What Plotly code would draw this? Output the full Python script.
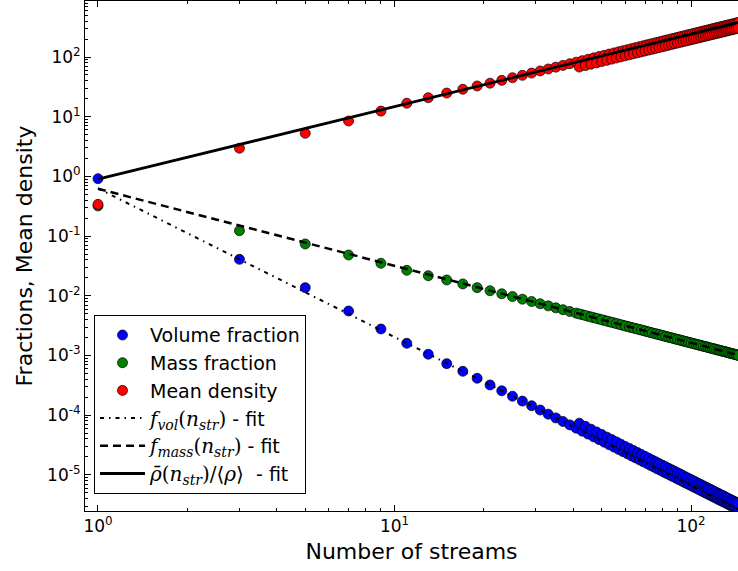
import plotly.graph_objects as go

# Multistream statistics: number of streams vs. volume fraction, mass fraction
# and mean density (normalised to the global mean).
n_odd = list(range(1, 146, 2))
vol_odd = [0.916, 0.0408, 0.0137, 0.00556, 0.00278, 0.00160, 0.00105, 7.30e-4, 5.43e-4, 4.15e-4,
           3.21e-4, 2.56e-4, 2.08e-4, 1.72e-4, 1.44e-4, 1.22e-4, 1.04e-4, 9.01e-5, 7.84e-5, 6.88e-5,
           6.07e-5, 5.39e-5, 4.82e-5, 4.32e-5, 3.90e-5, 3.53e-5, 3.20e-5, 2.92e-5, 2.67e-5, 2.45e-5,
           2.26e-5, 2.08e-5, 1.93e-5, 1.79e-5, 1.66e-5, 1.55e-5, 1.44e-5, 1.35e-5, 1.26e-5, 1.19e-5,
           1.11e-5, 1.05e-5, 9.89e-6, 9.33e-6, 8.82e-6, 8.34e-6, 7.90e-6, 7.49e-6, 7.11e-6, 6.76e-6,
           6.43e-6, 6.13e-6, 5.84e-6, 5.57e-6, 5.32e-6, 5.09e-6, 4.86e-6, 4.66e-6, 4.46e-6, 4.28e-6,
           4.10e-6, 3.94e-6, 3.78e-6, 3.64e-6, 3.50e-6, 3.37e-6, 3.24e-6, 3.12e-6, 3.01e-6, 2.90e-6,
           2.80e-6, 2.71e-6, 2.61e-6]
mass_odd = [0.32, 0.123, 0.0738, 0.0482, 0.0350, 0.0267, 0.0217, 0.0184, 0.0158, 0.0137,
            0.01215, 0.0108, 0.0097, 0.00878, 0.00801, 0.00735, 0.00678, 0.00628, 0.00585, 0.00546,
            0.00512, 0.00482, 0.00454, 0.00430, 0.00407, 0.00387, 0.00368, 0.00351, 0.00335, 0.00320,
            0.00307, 0.00294, 0.00283, 0.00272, 0.00262, 0.00252, 0.00243, 0.00235, 0.00227, 0.00220,
            0.00213, 0.00206, 0.00200, 0.00194, 0.00188, 0.00183, 0.00178, 0.00173, 0.00169, 0.00164,
            0.00160, 0.00156, 0.00152, 0.00149, 0.00145, 0.00142, 0.00139, 0.00135, 0.00132, 0.00130,
            0.00127, 0.00124, 0.00122, 0.00119, 0.00117, 0.00115, 0.00112, 0.00110, 0.00108, 0.00106,
            0.00104, 0.00102, 0.00100]
dens_odd = [0.34, 2.96, 5.27, 8.47, 12.4, 16.8, 20.8, 24.9, 28.8, 32.7,
            36.4, 40.6, 44.9, 49.3, 53.8, 58.4, 63.0, 67.6, 72.3, 77.1,
            81.9, 86.9, 91.8, 96.7, 101.8, 106.8, 112.0, 117.1, 122.3, 127.5,
            132.8, 138.1, 143.5, 148.9, 154.2, 159.7, 165.2, 170.7, 176.2, 181.8,
            187.4, 193.1, 198.7, 204.4, 210.1, 215.8, 221.6, 227.4, 233.3, 239.1,
            245.0, 250.9, 256.9, 262.8, 268.8, 274.8, 280.8, 286.9, 293.0, 299.0,
            305.2, 311.3, 317.5, 323.6, 329.9, 336.1, 342.3, 348.5, 354.8, 361.2,
            367.5, 373.8, 380.3]

# even stream counts only show up at large n
n_even = list(range(42, 145, 2))
vol_even = [7.33e-5, 6.52e-5, 5.83e-5, 5.24e-5, 4.74e-5, 4.29e-5, 3.90e-5, 3.57e-5, 3.26e-5, 2.99e-5,
            2.76e-5, 2.55e-5, 2.36e-5, 2.19e-5, 2.04e-5, 1.90e-5, 1.77e-5, 1.66e-5, 1.55e-5, 1.46e-5,
            1.37e-5, 1.29e-5, 1.22e-5, 1.15e-5, 1.09e-5, 1.03e-5, 9.75e-6, 9.23e-6, 8.75e-6, 8.33e-6,
            7.93e-6, 7.55e-6, 7.18e-6, 6.88e-6, 6.55e-6, 6.27e-6, 6.01e-6, 5.75e-6, 5.51e-6, 5.27e-6,
            5.05e-6, 4.87e-6, 4.66e-6, 4.50e-6, 4.34e-6, 4.15e-6, 4.00e-6, 3.86e-6, 3.72e-6, 3.59e-6,
            3.46e-6, 3.33e-6]
mass_even = [0.00497, 0.00468, 0.00442, 0.00418, 0.00397, 0.00377, 0.00359, 0.00343, 0.00327, 0.00313,
             0.00300, 0.00288, 0.00277, 0.00267, 0.00257, 0.00248, 0.00239, 0.00231, 0.00223, 0.00216,
             0.00209, 0.00203, 0.00197, 0.00191, 0.00186, 0.00181, 0.00176, 0.00171, 0.00166, 0.00162,
             0.00158, 0.00154, 0.00150, 0.00147, 0.00143, 0.00140, 0.00137, 0.00134, 0.00131, 0.00128,
             0.00125, 0.00123, 0.00120, 0.00118, 0.00116, 0.00113, 0.00111, 0.00109, 0.00107, 0.00105,
             0.00103, 0.00101]
dens_even = [67.8, 71.8, 75.8, 79.7, 83.8, 87.9, 92.0, 96.2, 100.3, 104.6,
             108.8, 113.1, 117.4, 121.8, 126.2, 130.5, 134.9, 139.4, 143.9, 148.4,
             152.9, 157.4, 162.0, 166.6, 171.2, 175.8, 180.5, 185.2, 189.8, 194.5,
             199.3, 204.0, 208.8, 213.6, 218.4, 223.3, 228.1, 233.0, 237.9, 242.8,
             247.7, 252.6, 257.6, 262.5, 267.5, 272.6, 277.5, 282.6, 287.7, 292.7,
             297.9, 303.0]

# power-law fits  A * n^p
fit_n = [1, 160]
fit_vol = (0.63, -2.49)
fit_mass = (0.62, -1.29)
fit_dens = (0.90, 1.215)

# decade tick positions and labels
x_exps = [0, 1, 2]
y_exps = [-5, -4, -3, -2, -1, 0, 1, 2]

MATH = "font-family:'DejaVu Serif';font-size:20px"
names_fit = [
    f"<span style=\"{MATH}\"><i>f</i><sub><i>vol</i></sub>(<i>n</i><sub><i>str</i></sub>)</span> - fit",
    f"<span style=\"{MATH}\"><i>f</i><sub><i>mass</i></sub>(<i>n</i><sub><i>str</i></sub>)</span> - fit",
    f"<span style=\"{MATH}\"><i>ρ̄</i>(<i>n</i><sub><i>str</i></sub>)/⟨<i>ρ</i>⟩</span>  - fit",
]

fig = go.Figure()

series = [
    ("Volume fraction", vol_odd, vol_even, "#0000ff"),
    ("Mass fraction", mass_odd, mass_even, "#008000"),
    ("Mean density", dens_odd, dens_even, "#ff0000"),
]
for name, y_odd, y_even, color in series:
    fig.add_trace(go.Scatter(
        x=n_odd + n_even, y=y_odd + y_even, mode="markers", name=name,
        marker=dict(size=10, color=color, line=dict(color="black", width=0.7)),
    ))

for (amp, p), dash, width, name in [
    (fit_vol, "4px,5px,1.5px,5px", 2, names_fit[0]),
    (fit_mass, "8px,5px", 2.5, names_fit[1]),
    (fit_dens, "solid", 2.8, names_fit[2]),
]:
    fig.add_trace(go.Scatter(
        x=fit_n, y=[amp * n ** p for n in fit_n], mode="lines", name=name,
        line=dict(color="black", width=width, dash=dash),
    ))


def decade_text(e):
    return "10<sup>%d</sup>" % e


axis_common = dict(
    type="log", showgrid=False, zeroline=False,
    showline=True, linecolor="black", linewidth=1,
    ticks="inside", ticklen=6, tickwidth=1, tickcolor="black",
    tickfont=dict(family="DejaVu Sans", size=17, color="black"),
    minor=dict(ticks="inside", ticklen=3, tickwidth=1, tickcolor="black", dtick="D1"),
)

fig.update_layout(
    width=738, height=571,
    margin=dict(l=85, r=0, t=1, b=60),
    paper_bgcolor="white", plot_bgcolor="white",
    font=dict(family="DejaVu Sans", color="black"),
    xaxis=dict(axis_common, range=[-0.0438, 2.1585], mirror="ticks",
               tickvals=[10 ** e for e in x_exps], ticktext=[decade_text(e) for e in x_exps],
               title=dict(text="Number of streams", font=dict(size=22), standoff=8)),
    yaxis=dict(axis_common, range=[-5.605, 2.938], mirror=False,
               tickvals=[10.0 ** e for e in y_exps], ticktext=[decade_text(e) for e in y_exps],
               title=dict(text="Fractions, Mean density", font=dict(size=22), standoff=8)),
    legend=dict(x=0.0138, y=0.384, xanchor="left", yanchor="top",
                bordercolor="black", borderwidth=1, bgcolor="white",
                font=dict(family="DejaVu Sans", size=19, color="black"),
                itemwidth=45, tracegroupgap=0),
    showlegend=True,
)

fig.write_html("out.html")
